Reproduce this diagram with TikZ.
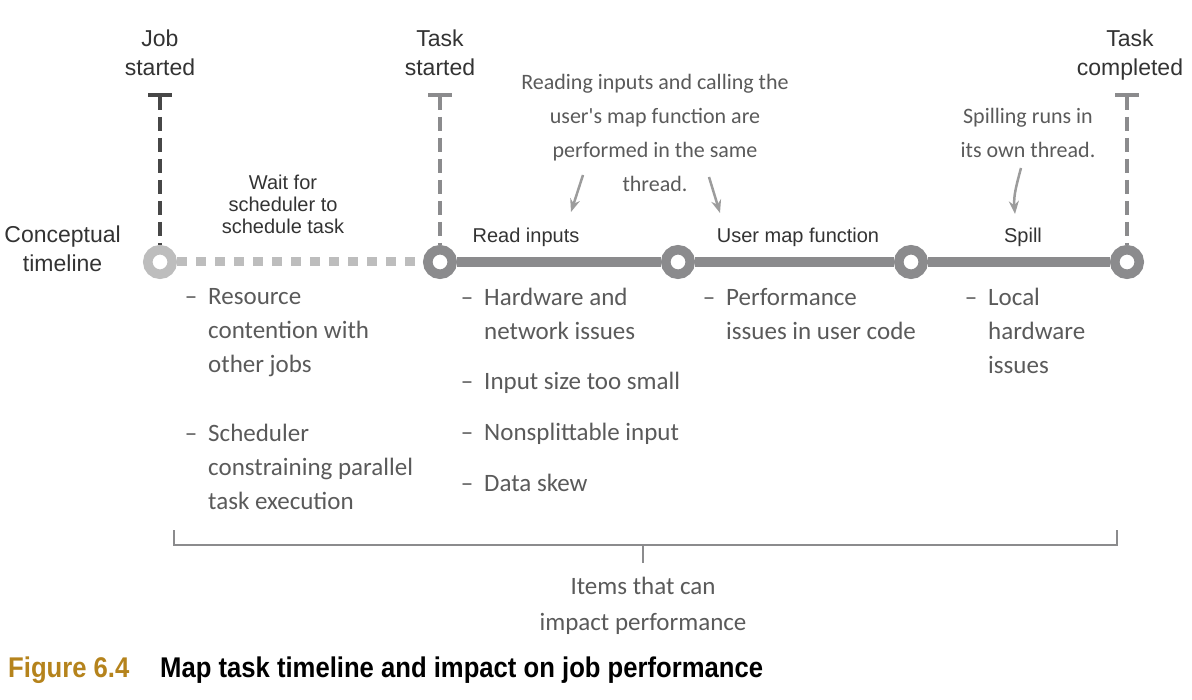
\documentclass[tikz,border=0pt]{standalone}
\usepackage{fontspec}
\setmainfont{Liberation Sans}
\newfontfamily\handfont{Carlito}
\newfontfamily\capfont[FakeStretch=0.9]{Liberation Sans}
\usetikzlibrary{positioning, arrows.meta}
\definecolor{textgray}{HTML}{333333}
\definecolor{linegray}{HTML}{8B8B8D}
\definecolor{waitgray}{HTML}{BDBDBD}
\definecolor{jobgray}{HTML}{474747}
\definecolor{handgray}{HTML}{5A5A5A}
\definecolor{arrowgray}{HTML}{9C9C9C}
\definecolor{figgold}{HTML}{B5831C}
\tikzset{
	node distance=1cm and 1.5cm,
	headtext/.style= {
		font={\fontsize{23}{29}\selectfont},
		text=textgray, align=center, inner sep=0
	},
	seglabel/.style= {
		font={\fontsize{20}{22}\selectfont},
		text=textgray, align=center, inner sep=0
	},
	note/.style= {
		font={\handfont\fontsize{22}{34}\selectfont},
		text=handgray, align=center, inner sep=0
	},
	issues/.style={note, font={\handfont\fontsize{25}{34}\selectfont}, align=left, anchor=north west},
	ring/.style={circle, draw=linegray, line width=9.5pt, fill=white, minimum size=24.5pt, inner sep=0},
	timeline/.style={linegray, line width=10pt},
	waitline/.style={waitgray, line width=9pt, dash pattern=on 10pt off 9pt},
	marker/.style={line width=3.5pt, dash pattern=on 14pt off 7pt, {Bar[width=24pt, line width=4pt]}-},
	notearrow/.style={arrowgray, line width=2.5pt, -{Stealth[length=13pt, width=10pt]}},
	bracket/.style={linegray, line width=2pt},
	caption/.style={font={\capfont\bfseries\fontsize{28.5}{32}\selectfont}, inner sep=0, anchor=west},
}
\newcommand{\dashitem}{\llap{\textendash\hspace{11pt}}}

\begin{document}
\begin{tikzpicture}[x=1pt, y=-1pt]
		\useasboundingbox (0,0) rectangle (1192,700);

		% timeline points
		\node (jobstart) [ring, draw=waitgray] at (160,262) {};
		\node (taskstart) [ring] at (440,262) {};
		\node (readend) [ring] at (678,262) {};
		\node (mapend) [ring] at (911,262) {};
		\node (taskend) [ring] at (1127,262) {};

		\draw[waitline] (jobstart) to (taskstart);
		\draw[timeline] (taskstart) to (readend);
		\draw[timeline] (readend) to (mapend);
		\draw[timeline] (mapend) to (taskend);

		% markers
		\coordinate (jobtop) at (160,93);
		\coordinate (tasktop) at (440,93);
		\coordinate (endtop) at (1127,93);
		\draw[marker, jobgray] (jobtop) to (jobstart);
		\draw[marker, linegray] (tasktop) to (taskstart);
		\draw[marker, linegray] (endtop) to (taskend);

		\node (jobtxt) [headtext, above=17pt of jobtop] {Job\\started};
		\node (tasktxt) [headtext, above=17pt of tasktop] {Task\\started};
		\node (endtxt) [headtext, above=13pt of endtop, xshift=3pt] {Task\\completed};
		\node (concept) [headtext, left=22pt of jobstart, yshift=13pt] {Conceptual\\timeline};

		% phases
		\node (waitlbl) [seglabel] at (283,204) {Wait for\\scheduler to\\schedule task};
		\node (readlbl) [seglabel] at (526,237) {Read inputs};
		\node (maplbl) [seglabel] at (798,237) {User map function};
		\node (spilllbl) [seglabel] at (1023,237) {Spill};

		% notes
		\node (readnote) [note] at (655,133) {Reading inputs and calling the\\user's map function are\\performed in the same\\thread.};
		\node (spillnote) [note] at (1028,133) {Spilling runs in\\its own thread.};
		\coordinate (readfrom) at (583,175);
		\coordinate (readto) at (571,212);
		\coordinate (mapfrom) at (709,177);
		\coordinate (mapto) at (720,213);
		\coordinate (spillfrom) at (1021,168);
		\coordinate (spillto) at (1015,214);
		\draw[notearrow] (readfrom) to (readto);
		\draw[notearrow] (mapfrom) to (mapto);
		\draw[notearrow] (spillfrom) to[out=-105, in=95] (spillto);

		% issues
		\node (waitissues) [issues] at (208,288) {\dashitem Resource\\contention with\\other jobs};
		\node (schedissues) [issues] at (208,424) {\dashitem Scheduler\\constraining parallel\\task execution};
		\node (hwissues) [issues] at (484,288) {\dashitem Hardware and\\network issues};
		\node (sizeissue) [issues] at (484,372) {\dashitem Input size too small};
		\node (splitissue) [issues] at (484,423) {\dashitem Nonsplittable input};
		\node (skewissue) [issues] at (484,474) {\dashitem Data skew};
		\node (codeissues) [issues] at (726,288) {\dashitem Performance\\issues in user code};
		\node (localissues) [issues] at (988,288) {\dashitem Local\\hardware\\issues};

		% bracket
		\node (impact) [note, font={\handfont\fontsize{25}{36}\selectfont}] at (643,606) {Items that can\\impact performance};
		\coordinate (brleft) at (174,530);
		\coordinate (brright) at (1117,530);
		\coordinate (brmid) at (643,545);
		\draw[bracket] (brleft) -- ++(0,15) -| (brright);
		\draw[bracket, line width=1.2pt, shorten >=14pt] (brmid) to (impact.north);

		% caption
		\node (figno) [caption, text=figgold] at (8,670) {Figure 6.4};
		\node (figtitle) [caption] at (160,670) {Map task timeline and impact on job performance};
	\end{tikzpicture}
\end{document}
